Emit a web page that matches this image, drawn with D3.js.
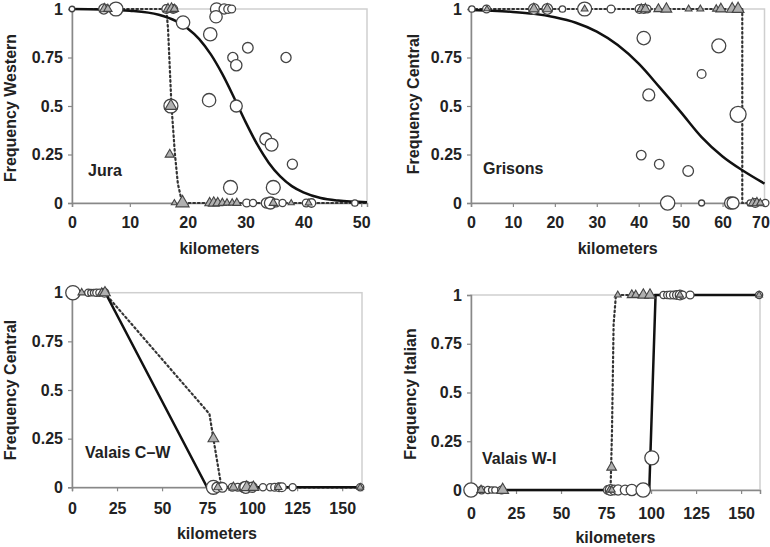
<!DOCTYPE html>
<html><head><meta charset="utf-8">
<script src="https://cdn.jsdelivr.net/npm/d3@7"></script>
<style>
html,body{margin:0;padding:0;background:#fff;}
svg{display:block;}
text{font-family:"Liberation Sans",Arial,sans-serif;font-weight:bold;fill:#222;}
</style></head>
<body><svg id="chart" width="770" height="547"></svg>
<script>
// ---------- DATA ----------
// Points: [kilometers, frequency, sampleSize]
const yTicks = [0, 0.25, 0.5, 0.75, 1];

const juraTicks = [0, 10, 20, 30, 40, 50];
const juraCircles = [
  [0,1,6],[5.5,1,20],[7.6,1,38],[16.3,1,15],[17.5,1,15],[25,1,30],[26.3,1,20],[27,1,15],[27.6,1,12],
  [19.2,0.93,35],[24.9,0.96,30],[23.9,0.87,35],[30.4,0.80,22],[27.8,0.75,20],[28.4,0.71,25],[37,0.75,20],
  [23.7,0.53,35],[28.4,0.5,28],[33.5,0.33,28],[34.5,0.30,32],[38.1,0.2,20],[27.4,0.08,38],[34.8,0.08,38],[17.1,0.5,38],
  [30.2,0,12],[31.3,0,10],[33.6,0,20],[34.3,0,28],[35.3,0,12],[36.4,0,10],[40.5,0,12],[41.4,0,14],[48.9,0,8]
];
const juraTriangles = [
  [5.6,1,20],[6.2,1,15],[16.6,1,20],[17.2,1,25],[17.7,1,15],
  [17.1,0.5,30],[16.9,0.25,18],
  [17.7,0,8],[19.1,0,38],[23.8,0,20],[24.5,0,25],[25.2,0,20],[26,0,15],[26.8,0,12],[27.7,0,12],[28.5,0,15],[34.8,0,15],[37.9,0,8],[40.9,0,10]
];
const juraSolid = [[0,1],[5,0.9975],[10,0.991],[15,0.97],[18,0.937],[20,0.9],[22,0.845],[24,0.766],[26,0.664],[28,0.544],[30,0.418],[32,0.303],[34,0.208],[36,0.137],[38,0.087],[40,0.055],[43,0.026],[46,0.0125],[51,0.004]];
const juraDotted = [[0,1],[16.3,1],[16.6,0.9],[17.2,0.5],[17.8,0.25],[18.3,0.1],[18.9,0.02],[19.5,0],[51,0]];

const grisonsTicks = [0, 10, 20, 30, 40, 50, 60, 70];
const grisonsCircles = [
  [0.2,1,8],[3.7,1,12],[15,1,22],[18.2,1,22],[21.8,1,8],[27.1,1,38],[33.4,1,12],[40.2,1,15],[41.2,1,15],[42,1,12],
  [41.2,0.85,35],[59.1,0.81,38],[55,0.665,15],[42.4,0.557,28],[63.7,0.457,50],[40.6,0.247,18],[44.9,0.2,18],[51.8,0.165,22],
  [46.9,0,40],[55,0,7],[61.9,0,28],[62.5,0,28],[66.6,0,8],[67.8,0,15],[70.2,0,10]
];
const grisonsTriangles = [
  [3.8,1,8],[15,1,22],[18.2,1,20],[27.1,1,10],[40.6,1,18],[41.6,1,20],[44.7,1,18],[46.6,1,25],[51.9,1,10],[54.7,1,10],[58.5,1,12],[59.6,1,22],[62.3,1,28],[63.7,1,30],
  [67.2,0,18],[68.2,0,20],[69,0,12]
];
const grisonsSolid = [[0,0.995],[5,0.991],[10,0.985],[15,0.975],[20,0.957],[25,0.929],[30,0.883],[35,0.814],[40,0.718],[45,0.596],[50,0.47],[55,0.34],[60,0.24],[65,0.165],[70,0.1]];
const grisonsDotted = [[0,1],[64.7,1],[64.7,0],[70,0]];

const cwTicks = [0, 25, 50, 75, 100, 125, 150];
const cwCircles = [
  [0.5,1,40],[9,1,10],[10.5,1,8],[12,1,8],[13.5,1,10],[15.2,1,10],[18,1,15],
  [77.5,0,18],[78.5,0,38],[80.5,0,20],[83.5,0,18],[89,0,12],[92,0,12],[95.5,0,22],[96.5,0,28],[100,0,20],
  [106,0,10],[110,0,10],[112.5,0,12],[115,0,15],[116.5,0,15],[122.5,0,10],[160,0,10]
];
const cwTriangles = [
  [5.4,1,12],[16.5,1,15],[18.3,1,25],
  [78.5,0.25,25],
  [81,0,15],[89.6,0,18],[97,0,28],[100.7,0,25],[114.5,0,12],[160,0,10]
];
const cwSolid = [[0,1],[18.5,1],[75,0],[160,0]];
const cwDotted = [[0,1],[18,1],[76.3,0.377],[78.5,0.25],[83,0],[160,0]];

const wiTicks = [0, 25, 50, 75, 100, 125, 150];
const wiCircles = [
  [0,0,40],[5.9,0,12],[9.4,0,10],[11.5,0,8],[13.3,0,8],[17,0,12],[76,0,15],[77.5,0,22],[79.5,0,18],[81.7,0,20],[85.6,0,18],[89.3,0,25],[95.6,0,40],
  [100.4,0.165,38],
  [106.9,1,10],[109,1,10],[110.6,1,12],[112.5,1,12],[114.3,1,14],[116.1,1,18],[117.5,1,12],[121.7,1,12],[160,1,10]
];
const wiTriangles = [
  [5.6,0,15],[17.6,0,30],[77,0,12],[78.2,0,10],
  [78.1,0.116,20],
  [81.5,1,10],[89.3,1,18],[91.5,1,15],[95.7,1,25],[99.4,1,25],[116,1,12],[160,1,10]
];
const wiSolid = [[0,0],[99,0],[102.5,1],[160,1]];
const wiDotted = [[0,0],[77.5,0],[78.3,0.3],[79.2,0.85],[80.5,1],[160,1]];

// ---------- LAYOUT ----------
const panels = [
  {label:"Jura", ytitle:"Frequency Western", xTicks:juraTicks, xmax:51, circles:juraCircles, triangles:juraTriangles, solid:juraSolid, dotted:juraDotted, solidCurve:true,
   L:72, R:367, T:9, B:203, ytx:10, yty:108, labX:88, labY:176, xlabY:228, xtitleY:254},
  {label:"Grisons", ytitle:"Frequency Central", xTicks:grisonsTicks, xmax:70, circles:grisonsCircles, triangles:grisonsTriangles, solid:grisonsSolid, dotted:grisonsDotted, solidCurve:true,
   L:471, R:764.5, T:9, B:203, ytx:413, yty:104, labX:483, labY:174, xlabY:228, xtitleY:254, lastShift:-4},
  {label:"Valais C\u2013W", ytitle:"Frequency Central", xTicks:cwTicks, xmax:161, circles:cwCircles, triangles:cwTriangles, solid:cwSolid, dotted:cwDotted, solidCurve:false,
   L:72, R:362, T:292.7, B:487.3, ytx:10, yty:390, labX:85, labY:458, xlabY:514, xtitleY:539},
  {label:"Valais W-I", ytitle:"Frequency Italian", xTicks:wiTicks, xmax:160.5, circles:wiCircles, triangles:wiTriangles, solid:wiSolid, dotted:wiDotted, solidCurve:false,
   L:471, R:760, T:295, B:490, ytx:410, yty:394, labX:482, labY:464, xlabY:519, xtitleY:543}
];

const svg = d3.select("#chart");
const rScale = d3.scaleSqrt().domain([0, 50]).range([0, 8]);

panels.forEach(p => {
  const x = d3.scaleLinear().domain([0, p.xmax]).range([p.L, p.R]);
  const y = d3.scaleLinear().domain([0, 1]).range([p.B, p.T]);
  const g = svg.append("g");

  // frame (top/right light grey)
  g.append("rect").attr("x", p.L).attr("y", p.T).attr("width", p.R - p.L).attr("height", p.B - p.T)
    .attr("fill", "none").attr("stroke", "#cfcfcf").attr("stroke-width", 1.5);

  // axes
  const yAxis = d3.axisLeft(y).tickValues(yTicks).tickSize(4).tickFormat(d => String(d));
  const ya = g.append("g").attr("transform", `translate(${p.L},0)`).call(yAxis);
  ya.select(".domain").attr("stroke", "#888").attr("stroke-width", 1.5);
  ya.selectAll(".tick line").attr("stroke", "#888").attr("stroke-width", 1.2);
  ya.selectAll(".tick text").attr("font-size", 16).attr("font-weight", "bold").attr("fill", "#222")
    .attr("font-family", '"Liberation Sans",Arial,sans-serif').attr("x", -9);

  const xAxis = d3.axisBottom(x).tickValues(p.xTicks).tickSize(4).tickFormat(d => String(d));
  const xa = g.append("g").attr("transform", `translate(0,${p.B})`).call(xAxis);
  xa.select(".domain").attr("stroke", "#888").attr("stroke-width", 1.5);
  xa.selectAll(".tick line").attr("stroke", "#888").attr("stroke-width", 1.2);
  const n = p.xTicks.length;
  xa.selectAll(".tick text").attr("font-size", 16).attr("font-weight", "bold").attr("fill", "#222")
    .attr("font-family", '"Liberation Sans",Arial,sans-serif').attr("dy", null).attr("y", p.xlabY - p.B)
    .attr("x", (d, i) => (i === n - 1 && p.lastShift) ? p.lastShift : 0);

  // titles
  g.append("text").attr("x", (p.L + p.R) / 2).attr("y", p.xtitleY).attr("text-anchor", "middle")
    .attr("font-size", 16).text("kilometers");
  g.append("text").attr("transform", `translate(${p.ytx + 6},${p.yty}) rotate(-90)`).attr("text-anchor", "middle")
    .attr("font-size", 16).text(p.ytitle);
  g.append("text").attr("x", p.labX).attr("y", p.labY).attr("font-size", 16).text(p.label);

  // lines
  const line = d3.line().x(d => x(d[0])).y(d => y(d[1]));
  g.append("path").datum(p.dotted).attr("d", line.curve(d3.curveLinear))
    .attr("fill", "none").attr("stroke", "#333").attr("stroke-width", 2.2)
    .attr("stroke-dasharray", "1.6,3").attr("stroke-linecap", "round");
  const solidLine = d3.line().x(d => x(d[0])).y(d => y(d[1])).curve(p.solidCurve ? d3.curveMonotoneX : d3.curveLinear);
  g.append("path").datum(p.solid).attr("d", solidLine)
    .attr("fill", "none").attr("stroke", "#111").attr("stroke-width", 2.5);

  // circles
  g.selectAll("circle.pt").data(p.circles).join("circle").attr("class", "pt")
    .attr("cx", d => x(d[0])).attr("cy", d => y(d[1])).attr("r", d => rScale(d[2]))
    .attr("fill", "#fff").attr("stroke", "#444").attr("stroke-width", 1.3);

  // triangles
  g.selectAll("path.tri").data(p.triangles).join("path").attr("class", "tri")
    .attr("transform", d => `translate(${x(d[0])},${y(d[1])})`)
    .attr("d", d => { const r = rScale(d[2]); return d3.symbol(d3.symbolTriangle, Math.sqrt(3) / 4 * (1.9 * r) * (1.9 * r))(); })
    .attr("fill", "#b0b0b0").attr("stroke", "#444").attr("stroke-width", 1.1);
});
</script></body></html>
